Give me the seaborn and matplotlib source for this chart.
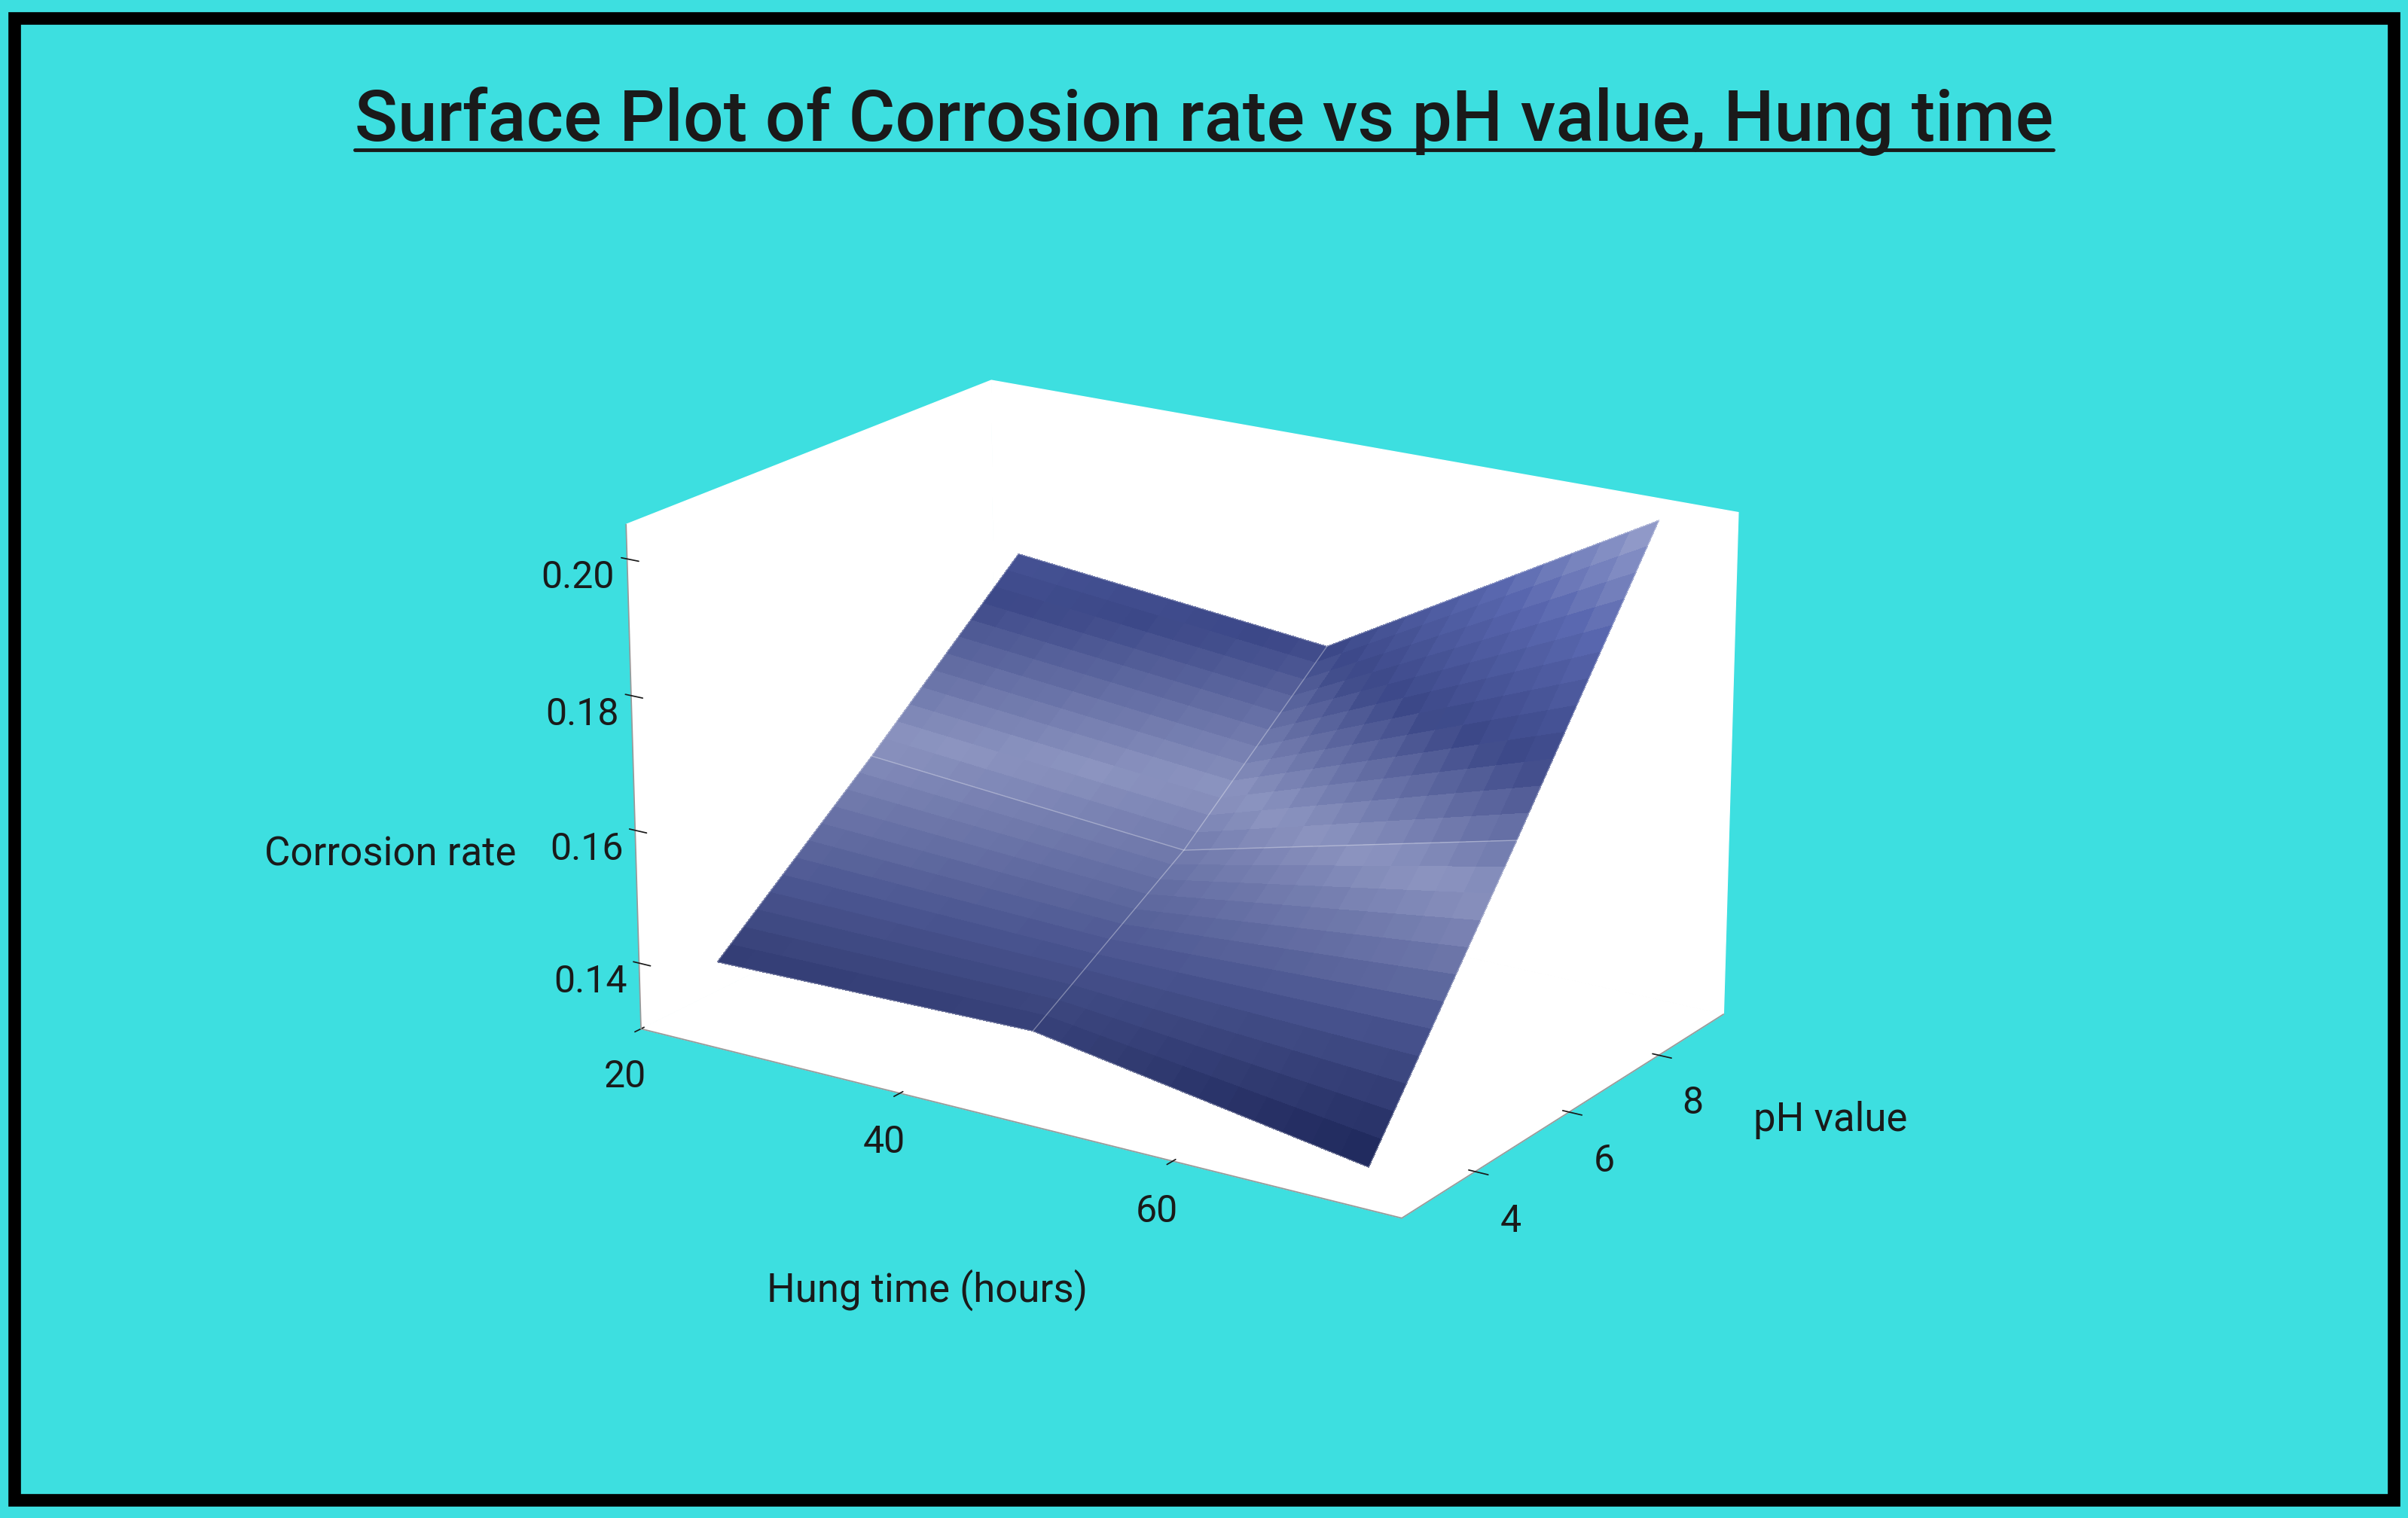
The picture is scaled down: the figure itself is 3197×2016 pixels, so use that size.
import numpy as np
import matplotlib
matplotlib.use("Agg")
import matplotlib.pyplot as plt
import seaborn as sns
from matplotlib.colors import LinearSegmentedColormap

sns.set_theme(style="white")
plt.rcParams['font.family'] = ['Roboto', 'DejaVu Sans']

hung_time = [24, 48, 72]
ph_value = [3, 6, 9]
corrosion = [[0.140, 0.141, 0.133],
             [0.160, 0.156, 0.168],
             [0.181, 0.176, 0.204]]

X, Y = np.meshgrid(hung_time, ph_value)
Z = np.array(corrosion)

def refine(A, n=12):
    A = np.asarray(A, float)
    r = []
    for i in range(A.shape[0] - 1):
        for k in range(n):
            r.append(A[i] + (A[i + 1] - A[i]) * k / n)
    r.append(A[-1])
    A = np.array(r)
    c = []
    for j in range(A.shape[1] - 1):
        for k in range(n):
            c.append(A[:, j] + (A[:, j + 1] - A[:, j]) * k / n)
    c.append(A[:, -1])
    return np.array(c).T

Xf, Yf, Zf = refine(X), refine(Y), refine(Z)

fig = plt.figure(figsize=(31.97, 20.16), dpi=100)
fig.patch.set_facecolor('#3ddfe0')
fig.patches.append(plt.Rectangle((0.006, 0.012), 0.988, 0.976, transform=fig.transFigure,
                                 fill=False, edgecolor='black', linewidth=12))
ax = fig.add_axes([0.15, 0.09, 0.67, 0.78], projection='3d')
ax.set_facecolor('#3ddfe0')
for a in (ax.xaxis, ax.yaxis, ax.zaxis):
    a.set_pane_color((1, 1, 1, 1))
    a.line.set_color('#999999')
ax.grid(False)
ax.zaxis._axinfo['juggled'] = (1, 2, 0)

cmap = LinearSegmentedColormap.from_list('n', ['#1c2558', '#4a5590', '#8c94c0', '#3c4888', '#5a68b0', '#a0a8d0'])
ax.plot_surface(Xf, Yf, Zf, cmap=cmap, rstride=1, cstride=1, linewidth=0,
                antialiased=False, shade=False, vmin=0.133, vmax=0.205)
for i in range(3):
    ax.plot(X[i], Y[i], Z[i], color=(1, 1, 1, 0.35), lw=1)
    ax.plot(X[:, i], Y[:, i], Z[:, i], color=(1, 1, 1, 0.35), lw=1)

ax.set_xlim(20, 76)
ax.set_ylim(2.5, 9.5)
ax.set_zlim(0.13, 0.205)
ax.set_xticks([20, 40, 60])
ax.set_yticks([4, 6, 8])
ax.set_zticks([0.14, 0.16, 0.18, 0.20])
ax.set_zticklabels(['0.14', '0.16', '0.18', '0.20'])
ax.tick_params(labelsize=36, colors='#1a1a1a', pad=18)
ax.view_init(elev=19, azim=-57)
ax.set_box_aspect((1.35, 0.95, 0.8))

fig.text(0.385, 0.150, 'Hung time (hours)', ha='center', va='center', fontsize=38, color='#1a1a1a')
fig.text(0.76, 0.262, 'pH value', ha='center', va='center', fontsize=38, color='#1a1a1a')
fig.text(0.162, 0.437, 'Corrosion rate', ha='center', va='center', fontsize=38, color='#1a1a1a')

t = fig.text(0.5, 0.92, 'Surface Plot of Corrosion rate vs pH value, Hung time',
             ha='center', va='center', fontsize=68, color='#1a1a1a', fontweight='medium')
fig.canvas.draw()
bb = t.get_window_extent().transformed(fig.transFigure.inverted())
fig.add_artist(plt.Line2D([bb.x0, bb.x1], [bb.y0 + 0.004, bb.y0 + 0.004],
                          transform=fig.transFigure, color='#1a1a1a', linewidth=3.5))

fig.savefig('out.png', dpi=100, facecolor=fig.get_facecolor())
